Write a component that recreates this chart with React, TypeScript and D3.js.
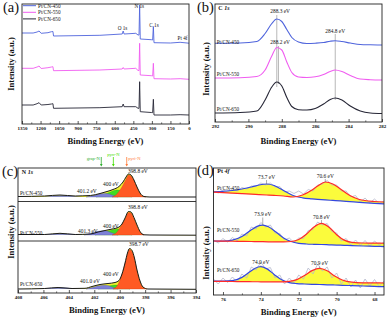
import { useEffect, useRef } from 'react';
import * as d3 from 'd3';

const FONT = "'Liberation Serif', 'DejaVu Serif', serif";
const W = 387, H = 320;

// ---------- (a) survey spectra ----------
const surveyBE = [1350, 1260, 1228, 1212, 1195, 1140, 1112, 1100, 1095, 720, 540, 532, 525, 430, 412, 404, 399, 394, 305, 294, 288, 283, 150, 72, 0];
const survey450 = [91, 91, 92, 93, 90.7, 91.3, 92.3, 92.5, 88, 88.7, 90, 93, 90, 90.7, 89, 89, 119, 85, 84.3, 84, 97.5, 81.3, 81, 81.7, 80.8];
const survey550 = [55.7, 55.7, 57, 58, 55.5, 56.3, 57, 57.3, 53.3, 54, 55, 56.5, 55, 55.7, 53.5, 53.5, 80.7, 49, 48.3, 48, 60.7, 45.3, 45, 45.3, 44.7];
const survey650 = [19, 19, 20.3, 21.3, 19, 19.5, 20, 20.3, 15.7, 16.3, 17.3, 20, 17.3, 17.3, 15.7, 15.7, 42.3, 12.3, 11.5, 11.3, 24.7, 9, 9, 9.3, 9];
const surveyTicks = [1350, 1200, 1050, 900, 750, 600, 450, 300, 150, 0];
const surveyMinor = [1275, 1125, 975, 825, 675, 525, 375, 225, 75];
const seriesNames = ['Pt/CN-450', 'Pt/CN-550', 'Pt/CN-650'];
const seriesColors = ['#4f64dc', '#f05cf0', '#262636'];

// ---------- (b) C 1s ----------
const c1sBE = [292, 290.5, 289.5, 289.0, 288.6, 288.3, 288.0, 287.7, 287.4, 287.0, 286.5, 286.0, 285.5, 285.1, 284.8, 284.4, 283.9, 283.3, 282.7, 282];
const c1s450 = [78.7, 79, 80.5, 88.5, 98.5, 103, 100.5, 92.5, 84.5, 80, 78.5, 78.8, 79.5, 80.8, 81.3, 80.5, 79, 77.5, 77.2, 77];
const c1s550 = [44, 44.3, 45.5, 52, 66, 74.5, 72, 60, 49.5, 45, 44.5, 45.2, 47.5, 50.5, 52, 50.5, 46.5, 43, 42.3, 42];
const c1s650 = [9, 9.5, 11, 22, 35, 40, 36, 24.5, 15.5, 12.3, 12, 13.5, 18, 22.5, 24, 22, 16, 11, 9, 8.5];
const c1sTicks = [292, 290, 288, 286, 284, 282];
const c1sMinor = [291, 289, 287, 285, 283];

// ---------- (c) N 1s : [BE, intensity] ----------
const n1sBase = [96, 58, 4];
const n1sEnv = [
  [[408, 96.5], [405.9, 97], [404.7, 98], [403.5, 97], [402.3, 97.5], [401.55, 99.5], [401.0, 101.5], [400.53, 103.5], [400.06, 106.5], [399.74, 111], [399.5, 116], [399.31, 119], [399.11, 118], [398.88, 113], [398.64, 106], [398.4, 100], [398.09, 96.5], [397.62, 96], [394, 96]],
  [[408, 58.5], [405.9, 58.5], [404.7, 59.7], [403.5, 58.5], [402.3, 59], [401.7, 61], [401.16, 62.5], [400.6, 64], [400.13, 65.5], [399.82, 69], [399.58, 75], [399.31, 81.5], [399.11, 81], [398.88, 75.5], [398.64, 68], [398.4, 61.5], [398.09, 58.2], [397.62, 58], [394, 57.8]],
  [[408, 4], [405.9, 4.5], [404.85, 5.5], [403.75, 4.5], [402.73, 4.7], [402.18, 6.5], [401.55, 8.5], [400.92, 9.5], [400.37, 10.5], [400.06, 12.5], [399.82, 19], [399.58, 30], [399.39, 40], [399.23, 44.5], [399.03, 42.5], [398.84, 35], [398.64, 23], [398.4, 12], [398.17, 6], [397.78, 4], [394, 3.7]],
];
const n1sPyri = [
  [[400.6, 96], [400.3, 98], [399.98, 103], [399.74, 108], [399.5, 114], [399.31, 118], [399.11, 117], [398.88, 112.5], [398.64, 105.5], [398.4, 99.5], [398.09, 96.2], [397.93, 96]],
  [[400.6, 58], [400.21, 61], [399.9, 67], [399.58, 74], [399.31, 80.5], [399.11, 80], [398.88, 74.5], [398.64, 67], [398.4, 61], [398.09, 58]],
  [[400.53, 4], [400.21, 7], [399.98, 13], [399.74, 22], [399.5, 34], [399.23, 43.5], [399.03, 41.5], [398.84, 34], [398.64, 22], [398.4, 11], [398.17, 5.5], [397.85, 4]],
];
const n1sPyrr = [
  [[401.86, 96], [401.3, 98], [400.84, 100.5], [400.45, 102.5], [400.13, 103], [399.82, 102], [399.42, 99], [399.03, 96]],
  [[401.94, 58], [401.39, 60], [400.92, 62], [400.45, 63.5], [400.13, 64], [399.82, 63], [399.42, 60], [399.03, 58]],
  [[401.7, 4], [401.24, 5.7], [400.76, 7.2], [400.37, 8], [399.98, 7.5], [399.58, 5.5], [399.19, 4]],
];
const n1sGrap = [
  [[402.65, 96], [402.02, 97.5], [401.47, 99.2], [401.08, 99.5], [400.6, 98], [400.13, 96]],
  [[402.8, 58], [402.18, 60], [401.55, 62], [401.16, 62.2], [400.69, 60.5], [400.13, 58]],
  [[402.65, 4], [402.02, 6], [401.47, 7.5], [401.08, 7.7], [400.6, 6], [400.13, 4]],
];
const n1sSat = [
  [[406.27, 96], [405.33, 97], [404.54, 97.7], [403.75, 97], [402.97, 96]],
  [[406.27, 58], [405.17, 59.2], [404.22, 59.5], [403.12, 58]],
  [[406.27, 4], [405.33, 5.2], [404.54, 5.7], [403.6, 4]],
];
const n1sDividers = [91.5, 52];
const n1sTicks = [408, 406, 404, 402, 400, 398, 396, 394];
const n1sMinor = [407, 405, 403, 401, 399, 397, 395];
const n1sPeakLabels = [
  ['401.2 eV', 403.36, 100], ['400 eV', 401.31, 107], ['398.8 eV', 399.35, 120.5],
  ['401.3 eV', 403.28, 60], ['400 eV', 401.31, 65], ['398.8 eV', 399.35, 84.5],
  ['401.0 eV', 403.12, 10.5], ['400 eV', 401.31, 17], ['398.7 eV', 399.27, 47],
];
const n1sSeriesV = [98.5, 58, 7.5];

// ---------- (d) Pt 4f ----------
const pt450BE = [76.5, 76.0, 75.5, 75.0, 74.5, 74.1, 73.7, 73.3, 72.8, 72.3, 71.8, 71.3, 71.0, 70.6, 70.2, 69.8, 69.3, 68.8, 68.0, 67.5];
const pt450Blue = [103.2, 103.7, 104.5, 106.0, 108.0, 110.0, 111.0, 109.5, 104.5, 99.5, 97.2, 96.2, 95.7, 95.1, 94.6, 94.1, 93.4, 92.7, 91.7, 91.2];
const pt450Red = [102.8, 102.3, 101.8, 101.3, 100.8, 100.4, 100.0, 99.6, 99.0, 98.0, 100.0, 105.0, 109.0, 113.0, 111.0, 106.0, 99.5, 95.5, 93.5, 93.0];
const pt550BE = [76.5, 76.0, 75.5, 75.0, 74.5, 74.2, 73.9, 73.6, 73.2, 72.8, 72.4, 72.0, 71.6, 71.2, 70.8, 70.4, 70.0, 69.6, 69.2, 68.6, 68.0, 67.5];
const pt550Blue = [54, 53.9, 54.9, 58.5, 65.2, 68.6, 69.9, 68.2, 62.9, 57.1, 53.5, 51.7, 51, 50.7, 50.5, 50.2, 49.9, 49.7, 49.4, 49, 48.7, 48.4];
const pt550Red = [54, 53.9, 53.75, 53.6, 53.5, 53.4, 53.3, 53.2, 53.1, 53.1, 53.5, 55.5, 60.7, 68, 71.7, 67.8, 60.3, 54.9, 52.7, 52, 51.9, 51.75];
const pt650BE = [76.5, 76.0, 75.5, 75.0, 74.6, 74.3, 74.0, 73.7, 73.3, 72.9, 72.5, 72.1, 71.7, 71.3, 70.9, 70.5, 70.1, 69.7, 69.2, 68.6, 68.0, 67.5];
const pt650Blue = [14.0, 13.8, 14.3, 17.6, 22.9, 26.8, 28.3, 26.4, 20.6, 15.2, 12.4, 11.4, 11.0, 10.7, 10.5, 10.2, 10.0, 9.7, 9.4, 9.0, 8.6, 8.3];
const pt650Red = [13.7, 13.6, 13.5, 13.4, 13.3, 13.25, 13.2, 13.15, 13.1, 13.1, 13.6, 15.4, 19.4, 24.4, 26.7, 24.2, 19.0, 15.0, 12.8, 12.2, 12.1, 12.0];
const rawBE = [76.5, 76.25, 76, 75.75, 75.5, 75.25, 75, 74.75, 74.5, 74.25, 74, 73.75, 73.5, 73.25, 73, 72.75, 72.5, 72.25, 72, 71.75, 71.5, 71.25, 71, 70.75, 70.5, 70.25, 70, 69.75, 69.5, 69.25, 69, 68.75, 68.5, 68.25, 68, 67.75, 67.5];
const raw450 = [104, 102, 105, 103, 106, 104, 107.5, 106, 109, 108.5, 112, 110, 112, 108, 108.5, 103, 104, 101.5, 104, 101, 105.5, 104, 110, 111, 114.5, 110, 110, 104, 104, 98, 99.5, 93, 97, 92, 96, 91.5, 94];
const raw550 = [55, 52, 56.5, 53, 57.5, 54, 61, 59, 68, 66, 72.5, 68, 70, 62, 61.5, 55, 57, 52.5, 57, 56.5, 64.5, 65.5, 73, 70, 71.5, 63.5, 62, 54, 56.5, 50, 55, 49.5, 54.5, 49, 54, 50, 53];
const raw650 = [16, 11, 17, 12.5, 18, 13, 21, 17, 28, 25, 33, 26, 27.5, 17, 20, 11, 17, 12, 20, 16, 27, 21, 31, 24, 28, 17, 22, 11, 17, 8, 15, 7, 16, 9, 15.5, 8.5, 14];
const ptTicks = [76, 74, 72, 70, 68];
const ptMinor = [75, 73, 71, 69];
const ptPeakLabels = [
  ['73.7 eV', 73.7, 116.5, 111], ['70.6 eV', 70.6, 117.5, 113],
  ['73.9 eV', 73.9, 79, 70], ['70.8 eV', 70.8, 76.5, 71.7],
  ['74.0 eV', 74.0, 31, 28.3], ['70.9 eV', 70.9, 30, 26.7],
];
const ptSeriesV = [105.5, 63.5, 23.5];

export default function App() {
  const ref = useRef<SVGSVGElement>(null);

  useEffect(() => {
    const svg = d3.select(ref.current);
    svg.selectAll('*').remove();
    svg.append('rect').attr('width', W).attr('height', H).attr('fill', '#fff');

    const txt = (x: number, y: number, s: string, size: number, opt: any = {}) =>
      svg.append('text').attr('x', x).attr('y', y).text(s)
        .attr('font-family', FONT).attr('font-size', size)
        .attr('font-weight', opt.bold ? 'bold' : 'normal')
        .attr('font-style', opt.italic ? 'italic' : 'normal')
        .attr('text-anchor', opt.anchor || 'start')
        .attr('fill', opt.fill || '#111');

    const coreLabel = (x: number, y: number, a: string, b: string) => {
      const t = svg.append('text').attr('x', x).attr('y', y).attr('font-family', FONT)
        .attr('font-size', 6).attr('font-weight', 'bold').attr('fill', '#111');
      t.append('tspan').text(a + ' ');
      t.append('tspan').attr('font-style', 'italic').text(b);
    };

    const axisBox = (x: any, y: any, major: number[], minor: number[], letter: string,
      letterX: number, letterY: number, titleDy: number, intX: number, intY: number) => {
      const [x0, x1] = x.range();
      const [y1, y0] = y.range();
      const g = svg.append('g').attr('transform', `translate(0,${y1})`)
        .call(d3.axisBottom(x).tickValues(major).tickSizeInner(-3).tickSizeOuter(0).tickPadding(2.5).tickFormat(d3.format('d')));
      g.select('.domain').remove();
      g.selectAll('line').attr('stroke', '#111').attr('stroke-width', 0.7);
      g.selectAll('text').attr('font-family', FONT).attr('font-size', 5).attr('font-weight', 'bold').attr('fill', '#111');
      const gm = svg.append('g').attr('transform', `translate(0,${y1})`)
        .call(d3.axisBottom(x).tickValues(minor).tickSize(-1.6).tickFormat(() => ''));
      gm.select('.domain').remove();
      gm.selectAll('line').attr('stroke', '#111').attr('stroke-width', 0.6);
      svg.append('rect').attr('x', x0).attr('y', y0).attr('width', x1 - x0).attr('height', y1 - y0)
        .attr('fill', 'none').attr('stroke', '#222').attr('stroke-width', 0.9);
      txt((x0 + x1) / 2, y1 + titleDy, 'Binding Energy (eV)', 8.6, { bold: true, anchor: 'middle' });
      svg.append('text').attr('transform', `translate(${intX},${intY}) rotate(-90)`)
        .attr('text-anchor', 'middle').attr('font-family', FONT).attr('font-size', 8.6)
        .attr('font-weight', 'bold').attr('fill', '#111').text('Intensity (a.u.)');
      txt(letterX, letterY, letter, 14.5);
    };

    // ---------- (a) ----------
    const xA = d3.scaleLinear().domain([1350, 0]).range([22, 189]);
    const yA = d3.scaleLinear().domain([0, 120]).range([124, 4]);
    const lineA = d3.line<number>().x((_, i) => xA(surveyBE[i])).y((d) => yA(d));
    [survey450, survey550, survey650].forEach((s, k) => {
      svg.append('path').datum(s).attr('d', lineA).attr('fill', 'none')
        .attr('stroke', seriesColors[k]).attr('stroke-width', 0.9);
    });
    seriesNames.forEach((n, k) => {
      const yy = 5.7 + k * 6.6;
      svg.append('line').attr('x1', 23).attr('x2', 36).attr('y1', yy).attr('y2', yy)
        .attr('stroke', seriesColors[k]).attr('stroke-width', 1);
      txt(38, yy + 1.8, n, 5.2);
    });
    txt(xA(402), yA(116), 'N 1s', 5.2, { anchor: 'middle' });
    txt(xA(537), yA(94), 'O 1s', 5.2, { anchor: 'middle' });
    txt(xA(283), yA(97), 'C 1s', 5.2, { anchor: 'middle' });
    txt(xA(12), yA(84), 'Pt 4f', 5.2, { anchor: 'end' });
    axisBox(xA, yA, surveyTicks, surveyMinor, '(a)', 3, 11.5, 20, 14, 64);

    // ---------- (b) ----------
    const xB = d3.scaleLinear().domain([292, 282]).range([215, 382]);
    const yB = d3.scaleLinear().domain([0, 118]).range([122, 4]);
    [[288.3, 107, 35], [288.2, 76, 38], [284.8, 88, 22]].forEach(([be, a, b]) => {
      svg.append('line').attr('x1', xB(be)).attr('x2', xB(be)).attr('y1', yB(a)).attr('y2', yB(b))
        .attr('stroke', '#888').attr('stroke-width', 0.6);
    });
    const lineB = d3.line<number>().x((_, i) => xB(c1sBE[i])).y((d) => yB(d)).curve(d3.curveMonotoneX);
    [c1s450, c1s550, c1s650].forEach((s, k) => {
      svg.append('path').datum(s).attr('d', lineB).attr('fill', 'none')
        .attr('stroke', seriesColors[k]).attr('stroke-width', 1.1);
    });
    [78.5, 46, 11.5].forEach((v, k) => txt(xB(291.9), yB(v), seriesNames[k], 5.2));
    txt(xB(288.1), yB(109), '288.3 eV', 5.4, { anchor: 'middle' });
    txt(xB(288.1), yB(78), '288.2 eV', 5.4, { anchor: 'middle' });
    txt(xB(284.8), yB(89.5), '284.8 eV', 5.4, { anchor: 'middle' });
    coreLabel(xB(291.8), 10, 'C', '1s');
    axisBox(xB, yB, c1sTicks, c1sMinor, '(b)', 197, 11.5, 22, 208.5, 69);

    // ---------- (c) ----------
    const xC = d3.scaleLinear().domain([408, 394]).range([18, 196]);
    const yC = d3.scaleLinear().domain([0, 125]).range([293, 168]);
    n1sBase.forEach((b0, k) => {
      const area = d3.area<number[]>().x((d) => xC(d[0])).y0(yC(b0)).y1((d) => yC(d[1])).curve(d3.curveMonotoneX);
      const line = d3.line<number[]>().x((d) => xC(d[0])).y((d) => yC(d[1])).curve(d3.curveMonotoneX);
      svg.append('path').datum(n1sEnv[k]).attr('d', area).attr('fill', '#f3f22e');
      svg.append('path').datum(n1sSat[k]).attr('d', area).attr('fill', '#8a90c4');
      svg.append('path').datum(n1sPyrr[k]).attr('d', area).attr('fill', '#3fdc22').attr('stroke', '#2a9a1a').attr('stroke-width', 0.3);
      svg.append('path').datum(n1sGrap[k]).attr('d', area).attr('fill', '#7d80d6').attr('stroke', '#4a4ea0').attr('stroke-width', 0.3);
      svg.append('path').datum(n1sPyri[k]).attr('d', area).attr('fill', '#ff5a24').attr('stroke', '#c23a10').attr('stroke-width', 0.3);
      svg.append('path').datum(n1sEnv[k]).attr('d', line).attr('fill', 'none').attr('stroke', '#1a1a1a').attr('stroke-width', 1);
      txt(xC(407.85), yC(n1sSeriesV[k]), seriesNames[k], 5.2);
    });
    n1sDividers.forEach((v) => {
      svg.append('line').attr('x1', xC(408)).attr('x2', xC(394)).attr('y1', yC(v)).attr('y2', yC(v))
        .attr('stroke', '#222').attr('stroke-width', 0.9);
    });
    n1sPeakLabels.forEach(([s, be, v]) => txt(xC(be as number), yC(v as number), s as string, 5.4));
    coreLabel(xC(407.7), 174, 'N', '1s');
    // component markers above panel (c)
    [['grap-N', 401.45, '#2fae2f', 'end', -1.5, 160], ['pyrr-N', 400.5, '#44dd00', 'middle', 0, 155.5], ['pyri-N', 399.45, '#ff7a3a', 'start', 1.5, 160]].forEach(([s, be, c, anc, dx, ty]) => {
      const xx = xC(be as number);
      svg.append('line').attr('x1', xx).attr('x2', xx).attr('y1', 157).attr('y2', 165.5)
        .attr('stroke', c as string).attr('stroke-width', 0.8);
      svg.append('path').attr('d', `M${xx - 1.3},164 L${xx + 1.3},164 L${xx},166.5 Z`).attr('fill', c as string);
      txt(xx + (dx as number), ty as number, s as string, 4.6, { fill: c as string, anchor: anc as string });
    });
    axisBox(xC, yC, n1sTicks, n1sMinor, '(c)', 2, 176, 20, 14, 232);

    // ---------- (d) ----------
    const xD = d3.scaleLinear().domain([76.5, 67.5]).range([213.5, 384]);
    const yD = d3.scaleLinear().domain([0, 127]).range([295, 168]);
    const sets = [
      [pt450BE, pt450Blue, pt450Red, raw450],
      [pt550BE, pt550Blue, pt550Red, raw550],
      [pt650BE, pt650Blue, pt650Red, raw650],
    ];
    sets.forEach(([be, blue, red, raw], k) => {
      const band = d3.area<number>().x((_, i) => xD(be[i])).y0((_, i) => yD(red[i])).y1((d) => yD(d)).curve(d3.curveMonotoneX);
      const ln = d3.line<number>().x((_, i) => xD(be[i])).y((d) => yD(d)).curve(d3.curveMonotoneX);
      const rawLn = d3.line<number>().x((_, i) => xD(rawBE[i])).y((d) => yD(d));
      svg.append('path').datum(blue).attr('d', band).attr('fill', '#fbfb3c');
      svg.append('path').datum(raw).attr('d', rawLn).attr('fill', 'none').attr('stroke', '#b4b8cc').attr('stroke-width', 0.8);
      svg.append('path').datum(blue).attr('d', ln).attr('fill', 'none').attr('stroke', '#3447e0').attr('stroke-width', 1.2);
      svg.append('path').datum(red).attr('d', ln).attr('fill', 'none').attr('stroke', '#ff2a2a').attr('stroke-width', 1.2);
      txt(xD(76.32), yD(ptSeriesV[k]), seriesNames[k], 5.2);
    });
    ptPeakLabels.forEach(([s, be, v, top]) => {
      const xx = xD(be as number);
      svg.append('line').attr('x1', xx).attr('x2', xx).attr('y1', yD((v as number) - 1.5)).attr('y2', yD(top as number))
        .attr('stroke', '#777').attr('stroke-width', 0.6);
      txt(xx, yD(v as number), s as string, 5.4, { anchor: 'middle' });
    });
    coreLabel(xD(76.3), 172.5, 'Pt', '4f');
    axisBox(xD, yD, ptTicks, ptMinor, '(d)', 197, 175, 20, 208.5, 253);
  }, []);

  return (
    <svg ref={ref} width={W} height={H} style={{ position: 'absolute', left: 0, top: 0 }} />
  );
}
